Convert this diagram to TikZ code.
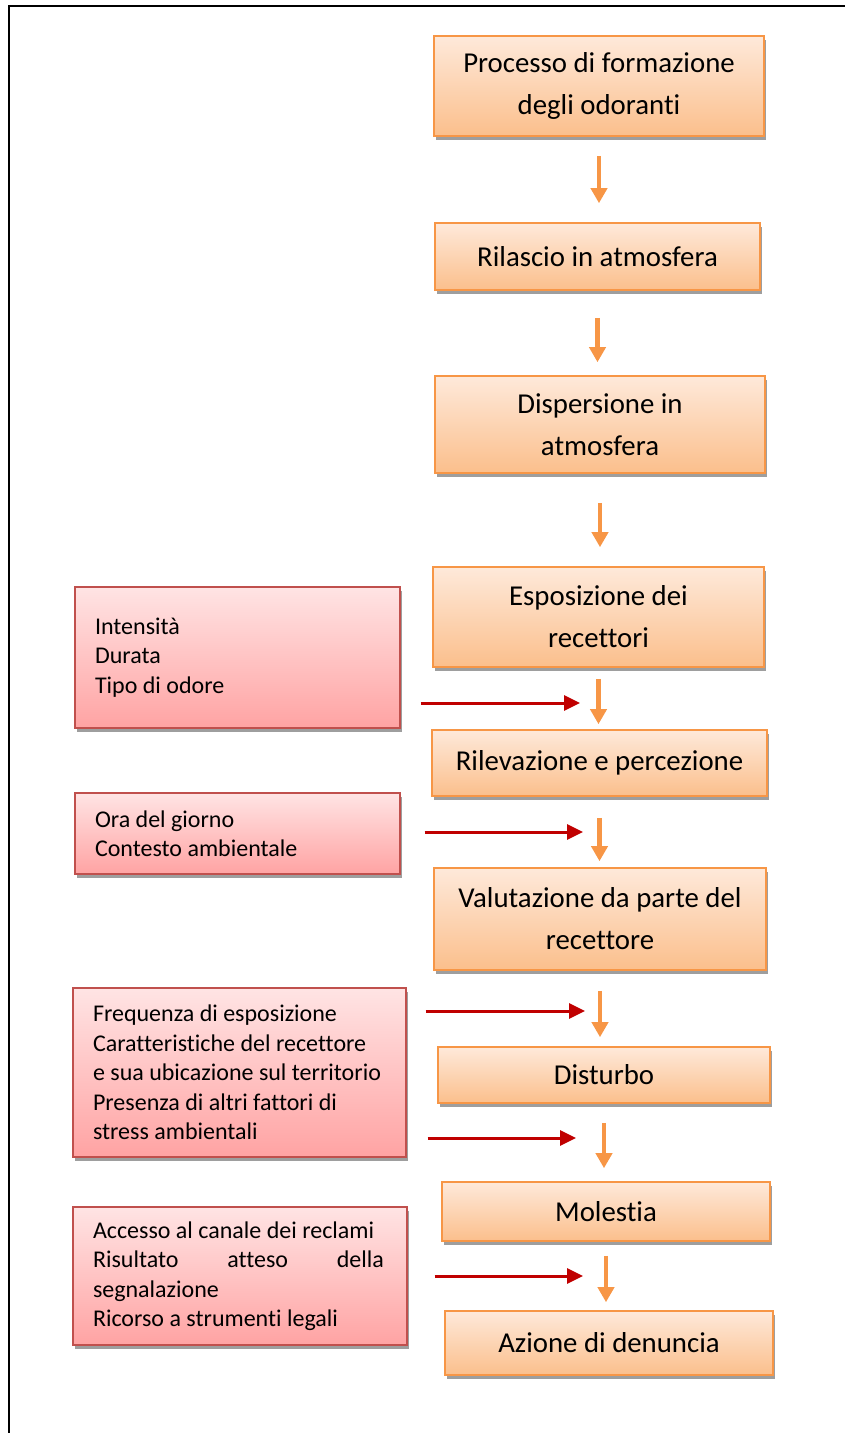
\documentclass[tikz,border=0pt]{standalone}
\usepackage{fontspec}
\setmainfont{Carlito}[Ligatures=NoCommon]
\usetikzlibrary{arrows.meta,shadows}

\definecolor{stageline}{RGB}{247,150,70}
\definecolor{stagetop}{RGB}{254,233,218}
\definecolor{stagebot}{RGB}{251,191,140}
\definecolor{factorline}{RGB}{192,80,77}
\definecolor{factortop}{RGB}{255,228,228}
\definecolor{factorbot}{RGB}{255,163,163}
\definecolor{inflred}{RGB}{192,0,0}

\tikzset{
  stage/.style={rectangle, draw=stageline, line width=1.6pt, top color=stagetop, bottom color=stagebot,
    align=center, inner sep=0pt, font=\fontsize{28.8}{42}\selectfont,
    drop shadow={shadow xshift=1.5pt, shadow yshift=-4pt, fill=black!38, opacity=1}},
  factor/.style={rectangle, draw=factorline, line width=1.4pt, top color=factortop, bottom color=factorbot,
    align=flush left, inner xsep=20pt, inner ysep=0pt, font=\fontsize{24}{29.5}\selectfont,
    drop shadow={shadow xshift=1.5pt, shadow yshift=-4pt, fill=black!38, opacity=1}},
  flow/.style={draw=stageline, line width=4.5pt, -{Triangle[width=16pt,length=15pt]}},
  infl/.style={draw=inflred, line width=3pt, -{Triangle[width=15pt,length=16pt]}}
}

\begin{document}
\begin{tikzpicture}[x=1pt,y=-1pt]
    \useasboundingbox (0,0) rectangle (845,1433);
    \draw[line width=2pt] (9,1433) -- (9,6) -- (845,6);

    % fasi del processo
    \node[stage, minimum width=330pt, minimum height=100pt] (p1) at (599,86) {Processo di formazione\\degli odoranti};
    \node[stage, minimum width=325pt, minimum height=67pt] (p2) at (597.5,256.5) {Rilascio in atmosfera};
    \node[stage, minimum width=330pt, minimum height=97pt] (p3) at (600,424.5) {Dispersione in\\atmosfera};
    \node[stage, minimum width=331pt, minimum height=100pt] (p4) at (598.5,617) {Esposizione dei\\recettori};
    \node[stage, minimum width=335pt, minimum height=66pt] (p5) at (599.5,763) {Rilevazione e percezione};
    \node[stage, minimum width=332pt, minimum height=102pt] (p6) at (600,919) {Valutazione da parte del\\recettore};
    \node[stage, minimum width=332pt, minimum height=56pt] (p7) at (604,1075) {Disturbo};
    \node[stage, minimum width=328pt, minimum height=59pt] (p8) at (606,1211.5) {Molestia};
    \node[stage, minimum width=328pt, minimum height=64pt] (p9) at (609,1343) {Azione di denuncia};

    % fattori di influenza
    \node[factor, text width=285pt, minimum height=141pt] (f1) at (237.5,657.5) {Intensit\`a\\Durata\\Tipo di odore};
    \node[factor, text width=285pt, minimum height=81pt] (f2) at (237.5,833.5) {Ora del giorno\\Contesto ambientale};
    \node[factor, text width=293pt, minimum height=169pt] (f3) at (239.5,1072.5) {Frequenza di esposizione\\Caratteristiche del recettore\\e sua ubicazione sul territorio\\Presenza di altri fattori di\\stress ambientali};
    \node[factor, text width=294pt, minimum height=138pt] (f4) at (240,1276) {Accesso al canale dei reclami\\\makebox[291pt][l]{Risultato\hfill atteso\hfill della}\\segnalazione\\Ricorso a strumenti legali};

    \foreach \a/\b/\s/\e in {p1/p2/19pt/19pt, p2/p3/27pt/13pt, p3/p4/29pt/19pt, p4/p5/11pt/5pt,
                             p5/p6/21pt/6pt, p6/p7/20pt/9pt, p7/p8/19pt/13pt, p8/p9/14pt/8pt}
        \draw[flow, shorten <=\s, shorten >=\e] (\a.south) -- (\a.south |- \b.north);

    \coordinate (t1) at (580,703);
    \coordinate (t2) at (583,832);
    \coordinate (t3) at (585,1011);
    \coordinate (t4) at (576,1138);
    \coordinate (t5) at (583,1276);
    \foreach \f/\t/\s in {f1/t1/20pt, f2/t2/24pt, f3/t3/19pt, f3/t4/21pt, f4/t5/27pt}
        \draw[infl, shorten <=\s] (\f.east |- \t) -- (\t);
\end{tikzpicture}
\end{document}
